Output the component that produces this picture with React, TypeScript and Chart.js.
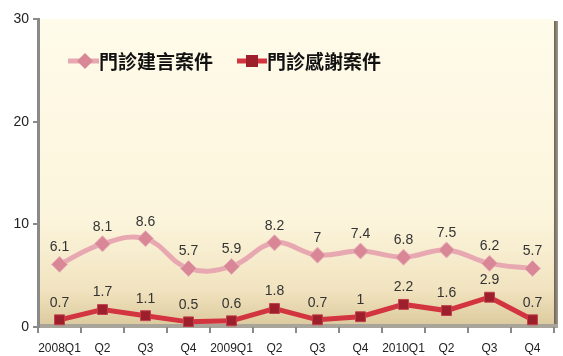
import React, { useEffect, useRef } from "react";
import { Chart, registerables } from "chart.js";

Chart.register(...registerables);

const categories = ["2008Q1", "Q2", "Q3", "Q4", "2009Q1", "Q2", "Q3", "Q4", "2010Q1", "Q2", "Q3", "Q4"];
const suggestionCases = [6.1, 8.1, 8.6, 5.7, 5.9, 8.2, 7, 7.4, 6.8, 7.5, 6.2, 5.7];
const thanksCases = [0.7, 1.7, 1.1, 0.5, 0.6, 1.8, 0.7, 1, 2.2, 1.6, 2.9, 0.7];
const seriesNames = ["門診建言案件", "門診感謝案件"];
const yTicks = [0, 10, 20, 30];

const PINK = "#e8a8b1";
const PINK_MARK = "#d98796";
const RED = "#d2353f";
const RED_MARK = "#9e1f2c";

const bgPlugin = {
  id: "bgPlugin",
  beforeDraw(chart: any) {
    const { ctx, chartArea } = chart;
    const { left, top, bottom } = chartArea;
    const right = 554;
    ctx.save();
    const g = ctx.createLinearGradient(0, top, 0, bottom);
    g.addColorStop(0, "#fffbea");
    g.addColorStop(0.65, "#fcf5dc");
    g.addColorStop(0.88, "#f1e3bf");
    g.addColorStop(1, "#dbc99c");
    ctx.fillStyle = g;
    ctx.fillRect(left, top, right - left, bottom - top);
    // right wall shadow
    const g2 = ctx.createLinearGradient(right, 0, right + 5, 0);
    g2.addColorStop(0, "#6b6256");
    g2.addColorStop(1, "#b0a898");
    ctx.fillStyle = g2;
    ctx.fillRect(right, top + 2, 4, bottom - top - 2);
    // floor
    ctx.fillStyle = "#a9a49a";
    ctx.fillRect(left, bottom - 3, right - left + 4, 4);
    ctx.restore();
  },
};

const labelPlugin = {
  id: "labelPlugin",
  afterDatasetsDraw(chart: any) {
    const { ctx } = chart;
    ctx.save();
    ctx.font = "14px 'Liberation Sans', Arial, sans-serif";
    ctx.fillStyle = "#333333";
    ctx.textAlign = "center";
    ctx.textBaseline = "bottom";
    chart.data.datasets.forEach((ds: any, i: number) => {
      const meta = chart.getDatasetMeta(i);
      meta.data.forEach((pt: any, j: number) => {
        ctx.fillText(String(ds.data[j]), pt.x, pt.y - 10);
      });
    });
    ctx.restore();
  },
};

const legendPlugin = {
  id: "legendPlugin",
  afterDraw(chart: any) {
    const { ctx } = chart;
    ctx.save();
    const y = 61;
    // series 1
    ctx.strokeStyle = PINK;
    ctx.lineWidth = 5;
    ctx.beginPath();
    ctx.moveTo(68, y);
    ctx.lineTo(99, y);
    ctx.stroke();
    ctx.fillStyle = PINK_MARK;
    ctx.beginPath();
    ctx.moveTo(85, y - 8);
    ctx.lineTo(93, y);
    ctx.lineTo(85, y + 8);
    ctx.lineTo(77, y);
    ctx.closePath();
    ctx.fill();
    // series 2
    ctx.strokeStyle = RED;
    ctx.beginPath();
    ctx.moveTo(237, y);
    ctx.lineTo(267, y);
    ctx.stroke();
    ctx.fillStyle = RED_MARK;
    ctx.fillRect(246, y - 6, 12, 12);
    ctx.font = "bold 19px 'Noto Sans CJK TC', sans-serif";
    ctx.fillStyle = "#111111";
    ctx.textBaseline = "middle";
    ctx.textAlign = "left";
    ctx.fillText(seriesNames[0], 99, y + 1);
    ctx.fillText(seriesNames[1], 267, y + 1);
    ctx.restore();
  },
};

export default function App() {
  const ref = useRef<HTMLCanvasElement | null>(null);
  useEffect(() => {
    if (!ref.current) return;
    const chart = new Chart(ref.current, {
      type: "line",
      data: {
        labels: categories,
        datasets: [
          {
            label: seriesNames[0],
            data: suggestionCases,
            borderColor: PINK,
            borderWidth: 5,
            tension: 0.4,
            pointStyle: "rectRot",
            pointRadius: 8,
            pointBackgroundColor: PINK_MARK,
            pointBorderColor: "#e9b3bb",
            pointBorderWidth: 1,
          },
          {
            label: seriesNames[1],
            data: thanksCases,
            borderColor: RED,
            borderWidth: 5,
            tension: 0,
            pointStyle: "rect",
            pointRadius: 7,
            pointBackgroundColor: RED_MARK,
            pointBorderColor: "#c0404c",
            pointBorderWidth: 1,
          },
        ],
      },
      options: {
        animation: false,
        responsive: false,
        maintainAspectRatio: false,
        layout: { padding: { top: 19, right: 0, left: 0, bottom: 0 } },
        plugins: { legend: { display: false }, tooltip: { enabled: false } },
        scales: {
          x: {
            offset: true,
            grid: {
              offset: true,
              drawOnChartArea: false,
              drawTicks: true,
              tickLength: 6,
              color: "#8a8a8a",
              lineWidth: 2,
            },
            border: { display: false },
            ticks: {
              color: "#222",
              font: { family: "'Liberation Sans Narrow', 'Liberation Sans', sans-serif", size: 12 },
              padding: 8,
              maxRotation: 0,
              autoSkip: false,
            },
            afterFit(scale: any) {
              scale.height = 29;
            },
          },
          y: {
            min: 0,
            max: 30,
            afterBuildTicks(scale: any) {
              scale.ticks = yTicks.map((v) => ({ value: v }));
            },
            grid: {
              drawOnChartArea: false,
              drawTicks: true,
              tickLength: 5,
              color: "#8a8a8a",
              lineWidth: 2,
            },
            border: { display: true, color: "#8a8a8a", width: 3 },
            ticks: {
              color: "#222",
              font: { family: "'Liberation Sans', Arial, sans-serif", size: 14 },
              padding: 4,
            },
            afterFit(scale: any) {
              scale.width = 38;
            },
          },
        },
      },
      plugins: [bgPlugin, labelPlugin, legendPlugin],
    });
    return () => chart.destroy();
  }, []);
  return (
    <div style={{ position: "absolute", left: 0, top: 0, width: 563, height: 356, background: "#fff" }}>
      <canvas ref={ref} width={563} height={356} style={{ display: "block" }} />
    </div>
  );
}
